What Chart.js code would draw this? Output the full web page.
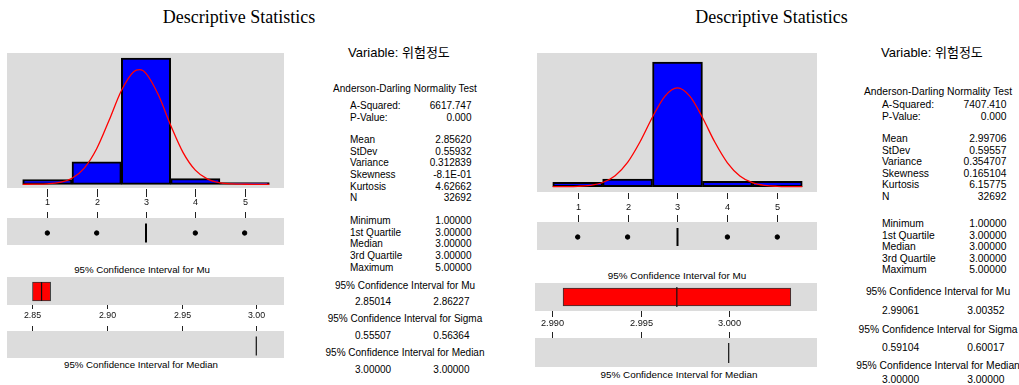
<!DOCTYPE html>
<html>
<head>
<meta charset="utf-8">
<script src="https://cdn.jsdelivr.net/npm/chart.js@4.4.0/dist/chart.umd.min.js"></script>
<style>
body{margin:0;background:#fff;width:1019px;height:385px;overflow:hidden;position:relative;font-family:"Liberation Sans","Noto Sans CJK KR",Arial,sans-serif;color:#000}
canvas{position:absolute}
.t{position:absolute;white-space:nowrap;line-height:12px;font-size:10px}
.h{position:absolute;white-space:nowrap;font-family:"Liberation Serif","Times New Roman",serif;font-size:18px;line-height:20px}
</style>
</head>
<body>
<canvas id="histA" width="277" height="192" style="left:7px;top:53px"></canvas>
<canvas id="ciA" width="277" height="81" style="left:7px;top:277px"></canvas>
<canvas id="histB" width="280" height="197" style="left:537px;top:53px"></canvas>
<canvas id="ciB" width="282" height="84" style="left:535px;top:283px"></canvas>
<script>
'use strict';
// histogram classes (bin centres) and counts, N = 32692 each
let classMid = [1, 2, 3, 4, 5];
let countsA = [980, 4550, 25690, 1145, 327];
let countsB = [989, 1683, 27650, 1174, 1196];

// fitted normal curve (counts per bin width)
let curveXA = [0.5, 0.75, 1, 1.25, 1.5, 1.75, 2, 2.25, 2.5, 2.75, 2.875, 3, 3.25, 3.5, 3.75, 4, 4.25, 4.5, 4.75, 5, 5.25, 5.5];
let curveYA = [3, 19, 95, 378, 1233, 3300, 7229, 12965, 19042, 22904, 23306, 22561, 18198, 12023, 6504, 2882, 1045, 311, 76, 15, 2, 0];
let curveXB = [0.5, 0.75, 1, 1.25, 1.5, 1.75, 2, 2.25, 2.5, 2.75, 3, 3.25, 3.5, 3.75, 4, 4.25, 4.5, 4.75, 5, 5.25, 5.5];
let curveYB = [3, 18, 79, 297, 930, 2446, 5394, 9973, 15459, 20095, 21899, 20011, 15330, 9848, 5304, 2395, 907, 288, 77, 17, 3];

// boxplot
let outliersA = [1, 2, 4, 5];
let outliersB = [1, 2, 4, 5];
let medianA = 3.0;
let medianB = 3.0;

// confidence intervals
let muCiA = [2.85014, 2.86227];
let meanA = 2.85620;
let muCiB = [2.99061, 3.00352];
let meanB = 2.99706;

// tick labels
let histTicks = [1, 2, 3, 4, 5];
let ciTicksA = [2.85, 2.90, 2.95, 3.00];
let ciTicksB = [2.990, 2.995, 3.000];

// statistics text
let statLabels = ['A-Squared:', 'P-Value:', 'Mean', 'StDev', 'Variance', 'Skewness', 'Kurtosis', 'N',
    'Minimum', '1st Quartile', 'Median', '3rd Quartile', 'Maximum'];
let statValuesA = ['6617.747', '0.000', '2.85620', '0.55932', '0.312839', '-8.1E-01', '4.62662', '32692',
    '1.00000', '3.00000', '3.00000', '3.00000', '5.00000'];
let statValuesB = ['7407.410', '0.000', '2.99706', '0.59557', '0.354707', '0.165104', '6.15775', '32692',
    '1.00000', '3.00000', '3.00000', '3.00000', '5.00000'];
let ciTitles = ['95% Confidence Interval for Mu', '95% Confidence Interval for Sigma', '95% Confidence Interval for Median'];
let ciValuesA = [['2.85014', '2.86227'], ['0.55507', '0.56364'], ['3.00000', '3.00000']];
let ciValuesB = [['2.99061', '3.00352'], ['0.59104', '0.60017'], ['3.00000', '3.00000']];

const grey = '#dcdcdc';

const bands = {
    id: 'bands',
    beforeDatasetsDraw(chart, args, o) {
        const ctx = chart.ctx;
        ctx.save();
        ctx.fillStyle = grey;
        o.rects.forEach(r => ctx.fillRect(0, r[0], chart.width, r[1] - r[0]));
        ctx.restore();
    }
};

const axisMarks = {
    id: 'axisMarks',
    afterDatasetsDraw(chart, args, o) {
        const ctx = chart.ctx;
        const sc = chart.scales.x;
        ctx.save();
        ctx.strokeStyle = '#222';
        ctx.fillStyle = '#111';
        ctx.lineWidth = 1;
        ctx.font = o.font;
        ctx.textAlign = 'center';
        ctx.textBaseline = 'middle';
        o.ticks.forEach(v => {
            const px = Math.round(sc.getPixelForValue(v)) + 0.5;
            ctx.beginPath();
            ctx.moveTo(px, o.upper[0]);
            ctx.lineTo(px, o.upper[1]);
            ctx.moveTo(px, o.lower[0]);
            ctx.lineTo(px, o.lower[1]);
            ctx.stroke();
            ctx.fillText(v.toFixed(o.decimals), px, o.label);
        });
        ctx.restore();
    }
};

const baseOpts = {
    responsive: false,
    animation: false,
    devicePixelRatio: 1,
    layout: {padding: 0, autoPadding: false},
    plugins: {legend: {display: false}, tooltip: {enabled: false}}
};

function makeHist(id, counts, cx, cy, outliers, median, o) {
    new Chart(document.getElementById(id), {
        type: 'bar',
        data: {
            datasets: [{
                type: 'line',
                data: cx.map((x, i) => ({x: x, y: cy[i]})),
                borderColor: '#ff0000',
                borderWidth: 1.3,
                pointRadius: 0,
                cubicInterpolationMode: 'monotone',
                order: 0
            }, {
                type: 'bar',
                data: classMid.map((x, i) => ({x: x, y: counts[i]})),
                backgroundColor: '#0000ff',
                borderColor: '#000',
                borderWidth: 2,
                borderSkipped: false,
                barPercentage: 1,
                categoryPercentage: 1,
                order: 2
            }, {
                type: 'scatter',
                yAxisID: 'yb',
                data: outliers.map(x => ({x: x, y: 0})),
                pointRadius: 2.2,
                backgroundColor: '#000',
                borderColor: '#000',
                order: 1
            }, {
                type: 'scatter',
                yAxisID: 'yb',
                data: [{x: median, y: 0}],
                pointStyle: 'line',
                rotation: 90,
                pointRadius: o.medLen,
                borderWidth: 2,
                borderColor: '#000',
                order: 1
            }]
        },
        options: Object.assign({}, baseOpts, {
            scales: {
                x: {type: 'linear', display: false, offset: false, min: o.xmin, max: o.xmax},
                y: {type: 'linear', display: false, offset: false, min: o.ymin, max: o.ymax},
                yb: {type: 'linear', display: false, offset: false, min: o.bmin, max: o.bmax}
            },
            plugins: Object.assign({}, baseOpts.plugins, {
                bands: {rects: o.rects},
                axisMarks: {ticks: histTicks, decimals: 0, upper: o.upper, lower: o.lower, label: o.label, font: o.font}
            })
        }),
        plugins: [bands, axisMarks]
    });
}

function makeCi(id, ci, mean, median, ticks, o) {
    new Chart(document.getElementById(id), {
        type: 'bar',
        data: {
            datasets: [{
                type: 'scatter',
                data: [{x: mean, y: 0}, {x: median, y: 1}],
                pointStyle: 'line',
                rotation: 90,
                pointRadius: o.lineLen,
                borderWidth: 1.2,
                borderColor: '#111',
                order: 0
            }, {
                type: 'bar',
                indexAxis: 'y',
                data: [{x: ci, y: 0}],
                barThickness: o.boxH,
                backgroundColor: '#ff0000',
                borderColor: '#333',
                borderWidth: 1,
                borderSkipped: false,
                order: 1
            }]
        },
        options: Object.assign({}, baseOpts, {
            scales: {
                x: {type: 'linear', display: false, offset: false, min: o.xmin, max: o.xmax},
                y: {type: 'linear', display: false, offset: false, reverse: true, min: o.ymin, max: o.ymax}
            },
            plugins: Object.assign({}, baseOpts.plugins, {
                bands: {rects: o.rects},
                axisMarks: {ticks: ticks, decimals: o.decimals, upper: o.upper, lower: o.lower, label: o.label, font: o.font}
            })
        }),
        plugins: [bands, axisMarks]
    });
}

makeHist('histA', countsA, curveXA, curveYA, outliersA, medianA, {
    xmin: 0.182, xmax: 5.798, ymin: -12346, ymax: 26706, bmin: -0.0625, bmax: 0.9375,
    rects: [[0, 135], [165, 192]], upper: [136, 144], label: 150, lower: [159, 165],
    font: '9px "Liberation Sans"', medLen: 9.5
});
makeHist('histB', countsB, curveXB, curveYB, outliersB, medianB, {
    xmin: 0.1844, xmax: 5.7956, ymin: -14034, ymax: 29641, bmin: -0.066, bmax: 0.934,
    rects: [[0, 139], [169, 197]], upper: [140, 146], label: 154, lower: [162, 169],
    font: '9.2px "Liberation Sans"', medLen: 9
});
makeCi('ciA', muCiA, meanA, medianA, ciTicksA, {
    xmin: 2.83306, xmax: 3.01855, ymin: -0.266, ymax: 1.220, decimals: 2,
    rects: [[0, 28], [54, 81]], upper: [28, 32], label: 39, lower: [49, 54],
    font: '8.8px "Liberation Sans"', lineLen: 9.5, boxH: 19
});
makeCi('ciB', muCiB, meanB, medianB, ciTicksB, {
    xmin: 2.989019, xmax: 3.005006, ymin: -0.25, ymax: 1.25, decimals: 3,
    rects: [[0, 28], [55, 84]], upper: [28, 34], label: 40, lower: [49, 55],
    font: '9.2px "Liberation Sans"', lineLen: 10, boxH: 18
});

// text
function put(txt, x, y, align, size, cls) {
    const d = document.createElement('div');
    d.className = cls || 't';
    d.textContent = txt;
    d.style.left = x + 'px';
    d.style.top = (y - (cls ? 0 : 5.9)) + 'px';
    if (size) d.style.fontSize = size + 'px';
    if (align === 'r') d.style.transform = 'translateX(-100%)';
    if (align === 'c') d.style.transform = 'translateX(-50%)';
    document.body.appendChild(d);
}

put('Descriptive Statistics', 239, 6.6, 'c', 0, 'h');
put('Descriptive Statistics', 771.5, 6.6, 'c', 0, 'h');

put('95% Confidence Interval for Mu', 142, 270, 'c', 9.7);
put('95% Confidence Interval for Median', 141, 365, 'c', 9.7);
put('95% Confidence Interval for Mu', 677, 276, 'c', 9.9);
put('95% Confidence Interval for Median', 679, 375, 'c', 9.9);

function statBlock(s) {
    put('Variable: 위험정도', s.x0, 53, 'l', 13);
    put('Anderson-Darling Normality Test', s.cx, s.adY, 'c', s.fs);
    statLabels.forEach((l, i) => {
        put(l, s.lx, s.rows[i], 'l', s.fs);
        put(s.vals[i], s.rx, s.rows[i], 'r', s.fs);
    });
    ciTitles.forEach((t, i) => {
        put(t, s.cx, s.ciY[i], 'c', s.fs);
        put(s.ci[i][0], s.vx, s.ciV[i], 'l', s.fs);
        put(s.ci[i][1], s.rx - 2, s.ciV[i], 'r', s.fs);
    });
}

statBlock({
    x0: 348, cx: 405, adY: 89, lx: 350, rx: 471.5, vx: 355, fs: 10,
    rows: [105.7, 117.7, 140, 151.7, 163.3, 175, 186.7, 198.3, 221, 232.7, 244.3, 256, 267.7],
    ciY: [285.7, 319.3, 353.3], ciV: [302.3, 336, 370],
    vals: statValuesA, ci: ciValuesA
});
statBlock({
    x0: 881, cx: 938, adY: 92, lx: 882, rx: 1006.5, vx: 882, fs: 10.3,
    rows: [105, 117, 139, 150.5, 162, 173.5, 185, 196.5, 224, 235.5, 247, 258.5, 270],
    ciY: [292, 329.5, 365.5], ciV: [311, 347.5, 380],
    vals: statValuesB, ci: ciValuesB
});
</script>
</body>
</html>
